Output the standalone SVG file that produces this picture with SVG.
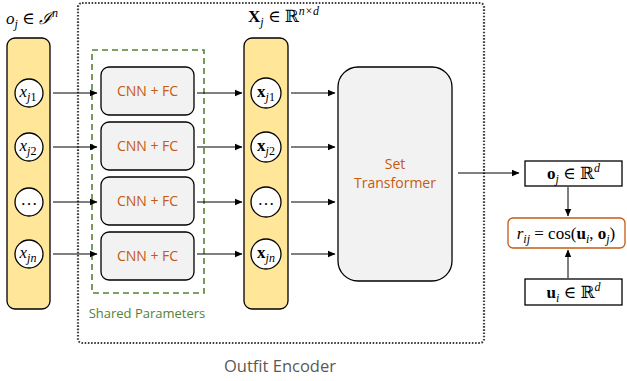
<svg xmlns="http://www.w3.org/2000/svg" width="627" height="381" viewBox="0 0 627 381">
<defs>
<marker id="ah" markerWidth="8" markerHeight="8" refX="7" refY="4" orient="auto" markerUnits="userSpaceOnUse">
<path d="M0,0.8 L7.5,4 L0,7.2 Z" fill="#000"/>
</marker>
<style>
.bar{fill:#FFE699;stroke:#000;stroke-width:1.3}
.circ{fill:#fff;stroke:#000;stroke-width:1.3}
.cnn{fill:#F2F2F2;stroke:#000;stroke-width:1.3}
.ot{font-family:"Open Sans","Noto Sans",sans-serif;fill:#C55A11;font-size:14px;text-anchor:middle}
.m{font-family:"Liberation Serif","DejaVu Serif",serif;font-size:17px;fill:#000}
.mc{font-family:"Liberation Serif","DejaVu Serif",serif;font-size:17px;fill:#000;text-anchor:middle}
.i{font-style:italic}
.b{font-weight:bold}
.sub{font-size:12px}
.ar{stroke:#000;stroke-width:1;fill:none;marker-end:url(#ah)}
.box{fill:#fff;stroke:#000;stroke-width:1.3}
</style>
</defs>
<g id="outfit-encoder">
<rect x="78" y="3" width="406" height="340" rx="4" fill="none" stroke="#404040" stroke-width="2.2" stroke-dasharray="1.6,1.6"/>
<text x="280" y="372" font-family="Open Sans, Noto Sans, sans-serif" font-size="16.5" fill="#595959" text-anchor="middle">Outfit Encoder</text>
</g>
<g id="shared-params">
<rect x="92" y="50" width="112" height="243" fill="none" stroke="#548235" stroke-width="1.6" stroke-dasharray="6,4"/>
<text x="147" y="318" font-family="Open Sans, Noto Sans, sans-serif" font-size="13" fill="#548235" text-anchor="middle">Shared Parameters</text>
</g>
<g id="input-bar">
<text x="6" y="24" class="m"><tspan class="i">o</tspan><tspan class="i sub" dy="4">j</tspan><tspan dy="-4"> ∈ </tspan><tspan class="i" font-family="DejaVu Serif, serif">ℐ</tspan><tspan class="i sub" dy="-7">n</tspan></text>
<rect class="bar" x="7" y="38" width="43" height="271" rx="8"/>
<circle class="circ" cx="29" cy="93" r="14"/>
<text class="mc" x="28" y="97"><tspan class="i">x</tspan><tspan class="i sub" dy="4">j</tspan><tspan class="sub">1</tspan></text>
<circle class="circ" cx="29" cy="147" r="14"/>
<text class="mc" x="28" y="151"><tspan class="i">x</tspan><tspan class="i sub" dy="4">j</tspan><tspan class="sub">2</tspan></text>
<circle class="circ" cx="29" cy="202" r="14"/>
<text class="mc" x="29" y="205">…</text>
<circle class="circ" cx="29" cy="254" r="14"/>
<text class="mc" x="28" y="258"><tspan class="i">x</tspan><tspan class="i sub" dy="4">jn</tspan></text>
</g>
<g id="cnn-fc">
<rect class="cnn" x="101" y="67" width="93" height="48" rx="8"/>
<text class="ot" x="147.5" y="96">CNN + FC</text>
<rect class="cnn" x="101" y="122" width="93" height="48" rx="8"/>
<text class="ot" x="147.5" y="151">CNN + FC</text>
<rect class="cnn" x="101" y="177" width="93" height="48" rx="8"/>
<text class="ot" x="147.5" y="206">CNN + FC</text>
<rect class="cnn" x="101" y="232" width="93" height="48" rx="8"/>
<text class="ot" x="147.5" y="261">CNN + FC</text>
</g>
<g id="feature-bar">
<text x="248" y="22" class="m"><tspan class="b">X</tspan><tspan class="i sub" dy="4">j</tspan><tspan dy="-4"> ∈ </tspan><tspan font-family="DejaVu Serif, serif">ℝ</tspan><tspan class="i sub" dy="-7">n×d</tspan></text>
<rect class="bar" x="244" y="38" width="44" height="271" rx="8"/>
<circle class="circ" cx="266" cy="93" r="15"/>
<text class="mc" x="266" y="97"><tspan class="b">x</tspan><tspan class="i sub" dy="4">j</tspan><tspan class="sub">1</tspan></text>
<circle class="circ" cx="266" cy="147" r="15"/>
<text class="mc" x="266" y="151"><tspan class="b">x</tspan><tspan class="i sub" dy="4">j</tspan><tspan class="sub">2</tspan></text>
<circle class="circ" cx="266" cy="202" r="15"/>
<text class="mc" x="266" y="205">…</text>
<circle class="circ" cx="266" cy="254" r="15"/>
<text class="mc" x="266" y="258"><tspan class="b">x</tspan><tspan class="i sub" dy="4">jn</tspan></text>
</g>
<g id="set-transformer">
<rect class="cnn" x="338" y="67" width="114" height="214" rx="20"/>
<text class="ot" x="395" y="169" font-size="13.5">Set</text>
<text class="ot" x="395" y="188" font-size="13.5">Transformer</text>
</g>
<g id="oj">
<rect class="box" x="525" y="161" width="97" height="25"/>
<text class="mc" x="573.5" y="179"><tspan class="b">o</tspan><tspan class="i sub" dy="4">j</tspan><tspan dy="-4"> ∈ </tspan><tspan font-family="DejaVu Serif, serif">ℝ</tspan><tspan class="i sub" dy="-7">d</tspan></text>
</g>
<g id="rij">
<rect x="508" y="218" width="117" height="30" rx="5" fill="#fff" stroke="#C55A11" stroke-width="1.3"/>
<text class="mc" x="566" y="239"><tspan class="i">r</tspan><tspan class="i sub" dy="4">ij</tspan><tspan dy="-4"> = cos(</tspan><tspan class="b">u</tspan><tspan class="i sub" dy="4">i</tspan><tspan dy="-4">, </tspan><tspan class="b">o</tspan><tspan class="i sub" dy="4">j</tspan><tspan dy="-4">)</tspan></text>
</g>
<g id="ui">
<rect class="box" x="525" y="279" width="97" height="26"/>
<text class="mc" x="573.5" y="298"><tspan class="b">u</tspan><tspan class="i sub" dy="4">i</tspan><tspan dy="-4"> ∈ </tspan><tspan font-family="DejaVu Serif, serif">ℝ</tspan><tspan class="i sub" dy="-7">d</tspan></text>
</g>
<g id="connectors">
<line class="ar" x1="53" y1="93" x2="97" y2="93"/>
<line class="ar" x1="53" y1="147" x2="97" y2="147"/>
<line class="ar" x1="53" y1="202" x2="97" y2="202"/>
<line class="ar" x1="53" y1="254" x2="97" y2="254"/>
<line class="ar" x1="197" y1="93" x2="242" y2="93"/>
<line class="ar" x1="197" y1="147" x2="242" y2="147"/>
<line class="ar" x1="197" y1="202" x2="242" y2="202"/>
<line class="ar" x1="197" y1="254" x2="242" y2="254"/>
<line class="ar" x1="291" y1="93" x2="335" y2="93"/>
<line class="ar" x1="291" y1="147" x2="335" y2="147"/>
<line class="ar" x1="291" y1="202" x2="335" y2="202"/>
<line class="ar" x1="291" y1="254" x2="335" y2="254"/>
<line class="ar" x1="458" y1="173" x2="519" y2="173"/>
<line class="ar" x1="568" y1="187" x2="568" y2="216"/>
<line class="ar" x1="568" y1="278" x2="568" y2="250"/>
</g>
</svg>
